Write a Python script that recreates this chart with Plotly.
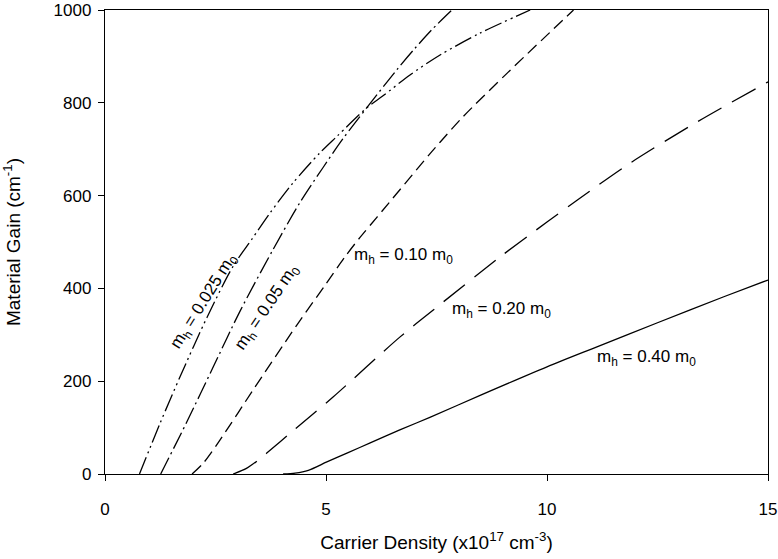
import plotly.graph_objects as go

# Carrier density (x10^17 cm^-3) and material gain (cm^-1) per hole mass
n025_x = [0.78, 1.24, 1.70, 2.31, 2.90, 3.33, 3.73, 4.25, 4.86, 5.25, 5.92, 6.29, 6.90, 7.58, 8.48, 9.62]
n025_y = [0, 108, 210, 338, 448, 507, 562, 627, 692, 728, 789, 815, 860, 903, 950, 1000]

n05_x = [1.26, 1.85, 2.45, 3.05, 3.78, 4.41, 4.93, 5.38, 5.92, 6.60, 7.00, 7.40, 7.85]
n05_y = [0, 112, 231, 350, 480, 585, 660, 722, 789, 871, 916, 958, 1000]

n10_x = [1.97, 2.22, 2.60, 3.35, 4.34, 4.98, 5.43, 5.77, 6.15, 7.35, 7.58, 8.10, 9.10, 10.60]
n10_y = [0, 23, 73, 181, 321, 407, 468, 510, 553, 690, 715, 770, 864, 1000]

n20_x = [2.90, 3.20, 3.44, 3.66, 4.19, 5.16, 6.67, 7.42, 8.94, 10.00, 10.68, 11.88, 13.40, 15.00]
n20_y = [0, 12, 28, 45, 88, 166, 295, 353, 468, 543, 590, 670, 759, 845]

n40_x = [4.03, 4.30, 4.60, 5.02, 5.50, 6.00, 6.67, 7.35, 8.50, 10.00, 11.13, 12.50, 14.00, 15.00]
n40_y = [0, 2, 8, 26, 46, 67, 95, 122, 170, 231, 274, 326, 382, 418]

x_ticks = [0, 5, 10, 15]
y_ticks = [0, 200, 400, 600, 800, 1000]

series = [
    ("0.025", n025_x, n025_y, "18px,4px,2px,4px,2px,4px"),
    ("0.05", n05_x, n05_y, "18px,4px,2px,4px"),
    ("0.10", n10_x, n10_y, "12px,6px"),
    ("0.20", n20_x, n20_y, "27px,12px"),
    ("0.40", n40_x, n40_y, "solid"),
]

FONT = "Liberation Sans, Arial, Helvetica, sans-serif"

fig = go.Figure()
for name, xs, ys, dash in series:
    fig.add_trace(go.Scatter(
        x=xs, y=ys, mode="lines", name=name,
        line=dict(color="black", width=1.3, dash=dash, shape="spline", smoothing=0.8),
        showlegend=False, hoverinfo="skip",
    ))

labels = [
    ("m<sub>h</sub> = 0.025 m<sub>0</sub>", 2.26, 372, -58, "center"),
    ("m<sub>h</sub> = 0.05 m<sub>0</sub>", 3.67, 358, -56, "center"),
    ("m<sub>h</sub> = 0.10 m<sub>0</sub>", 5.59, 470, 0, "left"),
    ("m<sub>h</sub> = 0.20 m<sub>0</sub>", 7.80, 353, 0, "left"),
    ("m<sub>h</sub> = 0.40 m<sub>0</sub>", 11.09, 250, 0, "left"),
]
for text, x, y, ang, xa in labels:
    fig.add_annotation(x=x, y=y, text=text, showarrow=False, textangle=ang,
                       xanchor=xa, yanchor="middle",
                       font=dict(family=FONT, size=17, color="black"))

axis_common = dict(
    showline=True, linecolor="black", linewidth=1.3, mirror=True,
    ticks="outside", ticklen=6, tickwidth=1, tickcolor="black",
    showgrid=False, zeroline=False, automargin=False,
    ticklabeloverflow="allow",
    tickfont=dict(family=FONT, size=17, color="black"),
)

fig.update_layout(
    width=778, height=559,
    margin=dict(l=105, r=10, t=10, b=85),
    paper_bgcolor="white", plot_bgcolor="white",
    xaxis=dict(range=[0, 15], tickvals=x_ticks, ticklabelstandoff=13,
               title=dict(text="Carrier Density (x10<sup>17</sup> cm<sup>-3</sup>)",
                          font=dict(family=FONT, size=19, color="black"), standoff=18),
               **axis_common),
    yaxis=dict(range=[0, 1000], tickvals=y_ticks, ticklabelstandoff=3,
               title=dict(text="Material Gain (cm<sup>-1</sup>)",
                          font=dict(family=FONT, size=19, color="black"), standoff=30),
               **axis_common),
)

fig.write_html("out.html")
